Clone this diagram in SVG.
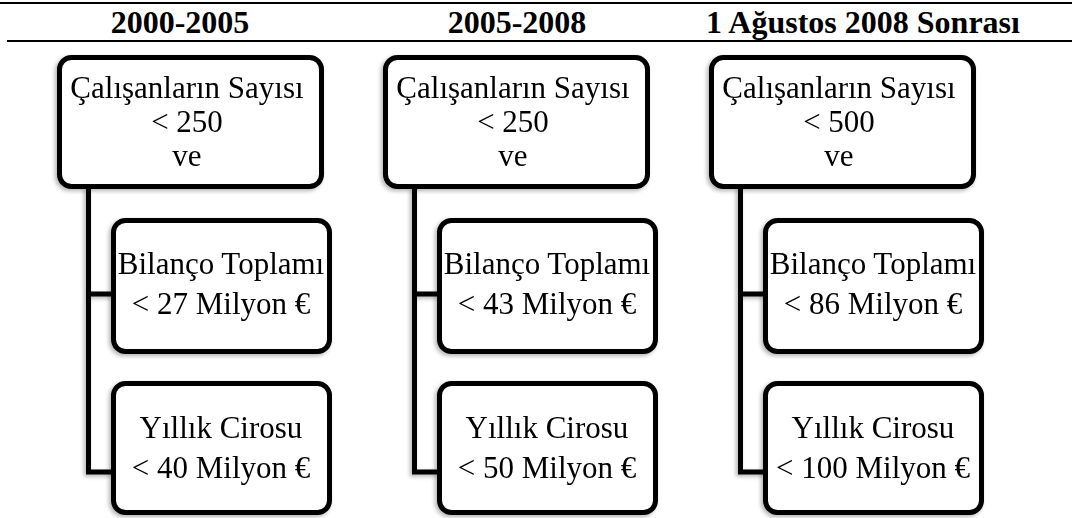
<svg xmlns="http://www.w3.org/2000/svg" width="1072" height="518" viewBox="0 0 1072 518">
<style>
.t{font-family:"Liberation Serif","Times New Roman",serif;font-size:31px;fill:#000;text-anchor:middle}
.h{font-family:"Liberation Serif","Times New Roman",serif;font-size:32px;font-weight:bold;fill:#000;text-anchor:middle}
.box{fill:#fff;stroke:#000;stroke-width:5}
.con{fill:none;stroke:#000;stroke-width:5}
</style>
<defs>
<filter id="sh" x="-20%" y="-20%" width="140%" height="140%">
<feGaussianBlur in="SourceAlpha" stdDeviation="2"/>
<feOffset dx="-2" dy="2" result="b"/>
<feComponentTransfer><feFuncA type="linear" slope="0.3"/></feComponentTransfer>
<feMerge><feMergeNode/><feMergeNode in="SourceGraphic"/></feMerge>
</filter>
</defs>
<rect width="1072" height="518" fill="#fff"/>
<g id="rules">
<line x1="0" y1="3" x2="1072" y2="3" stroke="#000" stroke-width="2"/>
<line x1="7" y1="41" x2="1072" y2="41" stroke="#000" stroke-width="2"/>
</g>
<g id="titles">
<text class="h" x="180" y="33">2000-2005</text>
<text class="h" x="517" y="33">2005-2008</text>
<text class="h" x="863" y="33">1 Ağustos 2008 Sonrası</text>
</g>
<g id="connectors" filter="url(#sh)">
<path class="con" d="M88.5,187 V472 H114 M88.5,294 H114"/>
<path class="con" d="M414.5,187 V472 H440 M414.5,294 H440"/>
<path class="con" d="M740.5,187 V472 H766 M740.5,294 H766"/>
</g>
<g id="c1-top" filter="url(#sh)">
<rect class="box" x="59.5" y="57.5" width="262" height="129" rx="12"/>
<text class="t" x="187" y="98">Çalışanların Sayısı</text>
<text class="t" x="187" y="132">&lt; 250</text>
<text class="t" x="187" y="166">ve</text>
</g>
<g id="c1-bilanco" filter="url(#sh)">
<rect class="box" x="113.5" y="220.5" width="216" height="131" rx="12"/>
<text class="t" x="221" y="274">Bilanço Toplamı</text>
<text class="t" x="221" y="314">&lt; 27 Milyon €</text>
</g>
<g id="c1-ciro" filter="url(#sh)">
<rect class="box" x="113.5" y="383.5" width="216" height="129" rx="12"/>
<text class="t" x="221" y="438">Yıllık Cirosu</text>
<text class="t" x="221" y="478">&lt; 40 Milyon €</text>
</g>
<g id="c2-top" filter="url(#sh)">
<rect class="box" x="385.5" y="57.5" width="262" height="129" rx="12"/>
<text class="t" x="513" y="98">Çalışanların Sayısı</text>
<text class="t" x="513" y="132">&lt; 250</text>
<text class="t" x="513" y="166">ve</text>
</g>
<g id="c2-bilanco" filter="url(#sh)">
<rect class="box" x="439.5" y="220.5" width="216" height="131" rx="12"/>
<text class="t" x="547" y="274">Bilanço Toplamı</text>
<text class="t" x="547" y="314">&lt; 43 Milyon €</text>
</g>
<g id="c2-ciro" filter="url(#sh)">
<rect class="box" x="439.5" y="383.5" width="216" height="129" rx="12"/>
<text class="t" x="547" y="438">Yıllık Cirosu</text>
<text class="t" x="547" y="478">&lt; 50 Milyon €</text>
</g>
<g id="c3-top" filter="url(#sh)">
<rect class="box" x="711.5" y="57.5" width="262" height="129" rx="12"/>
<text class="t" x="839" y="98">Çalışanların Sayısı</text>
<text class="t" x="839" y="132">&lt; 500</text>
<text class="t" x="839" y="166">ve</text>
</g>
<g id="c3-bilanco" filter="url(#sh)">
<rect class="box" x="765.5" y="220.5" width="216" height="131" rx="12"/>
<text class="t" x="873" y="274">Bilanço Toplamı</text>
<text class="t" x="873" y="314">&lt; 86 Milyon €</text>
</g>
<g id="c3-ciro" filter="url(#sh)">
<rect class="box" x="765.5" y="383.5" width="216" height="129" rx="12"/>
<text class="t" x="873" y="438">Yıllık Cirosu</text>
<text class="t" x="873" y="478">&lt; 100 Milyon €</text>
</g>
</svg>
